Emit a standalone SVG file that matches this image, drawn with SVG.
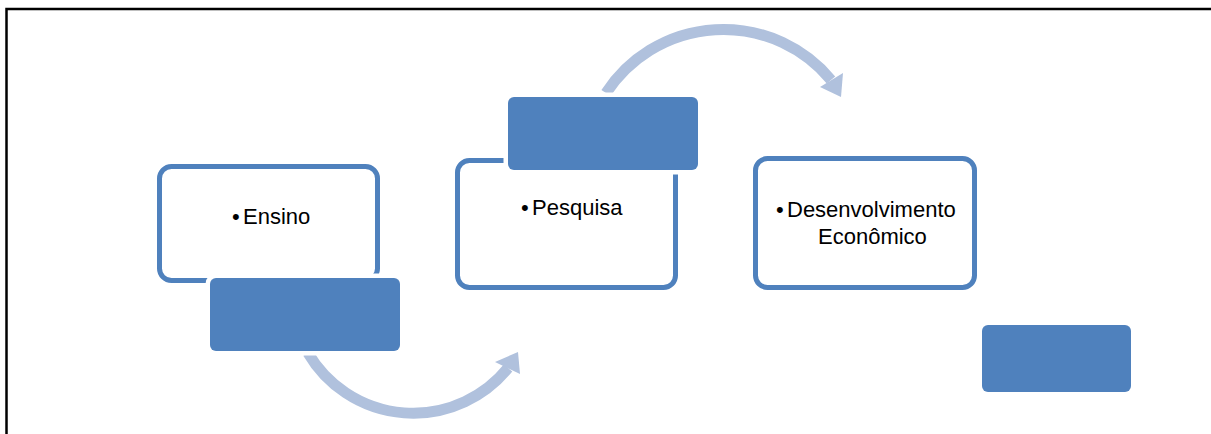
<svg xmlns="http://www.w3.org/2000/svg" width="1211" height="434" viewBox="0 0 1211 434">
  <style>
    .frame { stroke: #000; stroke-width: 2.5; fill: none; }
    .box { fill: #fff; stroke: #4F81BD; stroke-width: 5; }
    .tab { fill: #4F81BD; stroke: #fff; stroke-width: 9; paint-order: stroke; }
    .arc { fill: none; stroke: #B0C1DD; stroke-width: 11; }
    .head { fill: #B0C1DD; }
    .label { font-family: "Liberation Sans", Arial, sans-serif; font-size: 22px; fill: #000; }
  </style>
  <rect width="1211" height="434" fill="#fff"/>
  <!-- page frame: top and left edges only -->
  <path class="frame" d="M6.5 434 V9 H1211"/>

  <!-- curved connectors between the steps -->
  <g id="connectors">
    <path class="arc" d="M308 353 A122 122 0 0 0 508 368"/>
    <polygon class="head" points="518,352 495,362 520,374"/>
    <path class="arc" d="M606 93 A140 140 0 0 1 831 80"/>
    <polygon class="head" points="841,97 820,87 843,73"/>
  </g>

  <g id="node-ensino">
    <rect class="box" x="159.5" y="166.5" width="218" height="114" rx="12"/>
    <rect class="tab" x="210" y="278" width="190" height="73" rx="6"/>
    <text class="label"><tspan x="232" y="224">•</tspan><tspan x="243" y="224">Ensino</tspan></text>
  </g>

  <g id="node-pesquisa">
    <rect class="box" x="457.5" y="160.5" width="218" height="127" rx="12"/>
    <rect class="tab" x="508" y="97" width="190" height="73" rx="6"/>
    <text class="label"><tspan x="521" y="215">•</tspan><tspan x="532" y="215">Pesquisa</tspan></text>
  </g>

  <g id="node-desenvolvimento">
    <rect class="box" x="755.5" y="158.5" width="219" height="129" rx="12"/>
    <text class="label"><tspan x="776" y="217">•</tspan><tspan x="787" y="217">Desenvolvimento</tspan><tspan x="818" y="244">Econômico</tspan></text>
  </g>

  <g id="node-blank">
    <rect class="tab" x="982" y="325" width="149" height="67" rx="6"/>
  </g>
</svg>
